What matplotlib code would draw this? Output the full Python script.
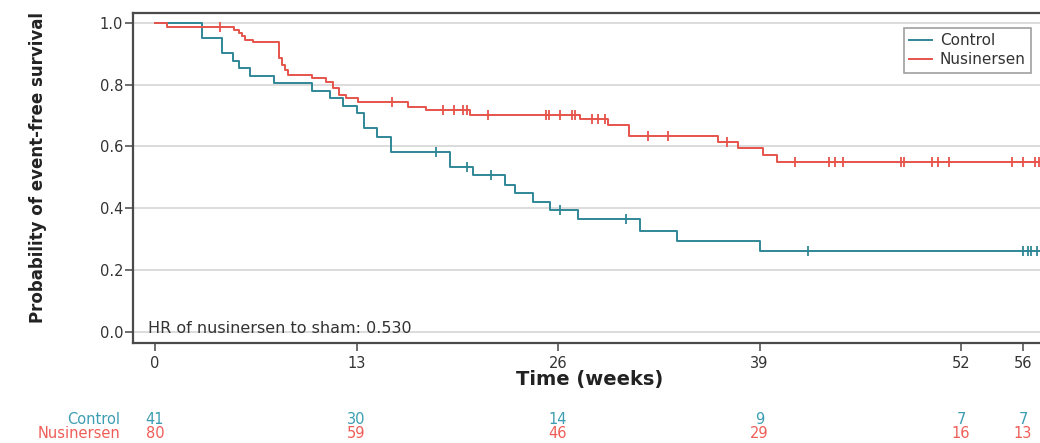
import numpy as np
import matplotlib
matplotlib.use("Agg")
import matplotlib.pyplot as plt
from matplotlib.transforms import blended_transform_factory

# step data: time of each drop (weeks) and survival after it
control_t = [0, 3.0, 4.3, 5.0, 5.4, 6.1, 7.7, 10.1, 11.3, 12.1, 13.0, 13.5, 14.3,
             15.2, 19.0, 20.5, 22.6, 23.2, 24.4, 25.5, 27.3, 31.3, 33.7, 39.0, 57.5]
control_s = [1.0, 0.951, 0.902, 0.878, 0.854, 0.829, 0.805, 0.780, 0.756, 0.732, 0.707,
             0.659, 0.632, 0.583, 0.535, 0.508, 0.475, 0.449, 0.420, 0.393, 0.365,
             0.328, 0.295, 0.263, 0.263]
control_cens = [18.1, 20.1, 21.7, 26.1, 30.4, 42.1, 56.0, 56.3, 56.5, 56.9]

nus_t = [0, 0.8, 5.1, 5.4, 5.6, 5.8, 6.3, 8.0, 8.2, 8.4, 8.6, 10.1, 11.0, 11.5, 11.9,
         12.3, 13.1, 16.3, 17.5, 20.3, 27.4, 29.2, 30.6, 36.3, 37.6, 39.2, 40.1, 57.5]
nus_s = [1.0, 0.988, 0.977, 0.967, 0.956, 0.945, 0.938, 0.886, 0.864, 0.848, 0.832,
         0.821, 0.810, 0.789, 0.767, 0.756, 0.745, 0.729, 0.718, 0.702, 0.689, 0.670,
         0.634, 0.616, 0.596, 0.573, 0.549, 0.549]
nus_cens = [4.2, 15.3, 18.6, 19.3, 19.9, 20.1, 21.5, 25.2, 25.4, 26.1, 26.9, 27.1,
            28.2, 28.6, 29.0, 31.8, 33.1, 36.9, 41.3, 43.5, 43.9, 44.4, 48.1, 48.3,
            50.1, 50.5, 51.2, 55.3, 56.0, 56.8, 57.0]

# number at risk
risk_times = [0, 13, 26, 39, 52, 56]
risk_control = [41, 30, 14, 9, 7, 7]
risk_nus = [80, 59, 46, 29, 16, 13]

hr_text = "HR of nusinersen to sham: 0.530"

c_control = "#2f8796"
c_nus = "#e5534b"
c_control_txt = "#3c9db2"
c_nus_txt = "#ef5d57"


def surv_at(t, s, times):
    idx = np.searchsorted(t, times, side="right") - 1
    return np.asarray(s)[idx]


fig = plt.figure(figsize=(10.4, 4.43), dpi=100)
ax = fig.add_axes([133 / 1040, 100 / 443, 913 / 1040, 330 / 443])

ax.step(control_t, control_s, where="post", color=c_control, lw=1.4, label="Control")
ax.step(nus_t, nus_s, where="post", color=c_nus, lw=1.4, label="Nusinersen")
ax.plot(control_cens, surv_at(control_t, control_s, control_cens), ls="none",
        marker="|", ms=7, mew=1.3, color=c_control)
ax.plot(nus_cens, surv_at(nus_t, nus_s, nus_cens), ls="none",
        marker="|", ms=7, mew=1.3, color=c_nus)

ax.set_xlim(-1.42, 57.48)
ax.set_ylim(-0.036, 1.032)
ax.set_xticks(risk_times)
ax.set_yticks([0, 0.2, 0.4, 0.6, 0.8, 1.0])
ax.set_yticklabels(["0.0", "0.2", "0.4", "0.6", "0.8", "1.0"])
ax.grid(axis="y", color="#d9d9d9", lw=1.3)
ax.set_axisbelow(True)

for sp in ax.spines.values():
    sp.set_color("#4a4a4a")
    sp.set_linewidth(1.6)
ax.tick_params(axis="both", direction="out", length=6, width=1.2, color="#555555",
               labelsize=10.5, labelcolor="#333333")
ax.tick_params(axis="y", pad=1)
ax.tick_params(axis="x", pad=3)

ax.set_xlabel("Time (weeks)", fontsize=14, fontweight="bold", color="#222222", labelpad=0)
ax.set_ylabel("Probability of event-free survival", fontsize=12, fontweight="bold",
              color="#222222")
ax.yaxis.set_label_coords(-0.094, 0.533)

ax.text(-0.45, -0.004, hr_text, fontsize=11.5, color="#333333", va="baseline", ha="left")

leg = ax.legend(loc="upper right", bbox_to_anchor=(1031 / 1040, 415 / 443),
                bbox_transform=fig.transFigure, fontsize=11, frameon=True,
                fancybox=False, handlelength=1.5, handletextpad=0.5,
                borderpad=0.35, labelspacing=0.25, borderaxespad=0)
leg.get_frame().set_edgecolor("#888888")
leg.get_frame().set_linewidth(1.2)
for txt in leg.get_texts():
    txt.set_color("#333333")

# number-at-risk table under the axis
tr = blended_transform_factory(ax.transData, fig.transFigure)
fig.text(120 / 1040, 0.052, "Control", ha="right", va="center", fontsize=10.5,
         color=c_control_txt)
fig.text(120 / 1040, 0.021, "Nusinersen", ha="right", va="center", fontsize=10.5,
         color=c_nus_txt)
for t, a, b in zip(risk_times, risk_control, risk_nus):
    ax.text(t, 0.052, str(a), transform=tr, ha="center", va="center", fontsize=10.5,
            color=c_control_txt, clip_on=False)
    ax.text(t, 0.021, str(b), transform=tr, ha="center", va="center", fontsize=10.5,
            color=c_nus_txt, clip_on=False)

fig.savefig("out.png", dpi=100)
